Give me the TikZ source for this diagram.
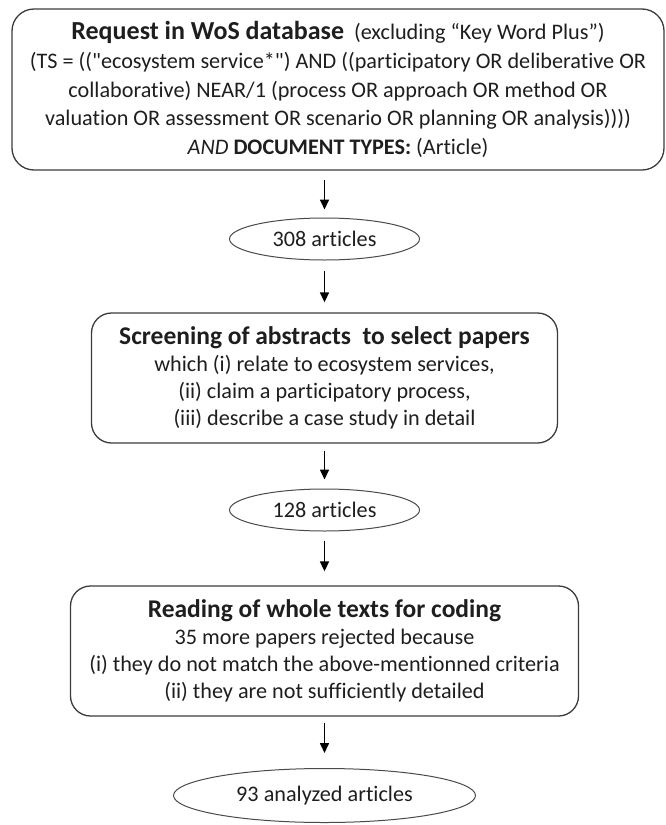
\documentclass[tikz,border=0pt]{standalone}
\usepackage{fontspec}
\setmainfont{Carlito}[Ligatures={TeXOff,NoCommon}]
\usetikzlibrary{shapes.geometric,arrows.meta}
\definecolor{ln}{HTML}{3C3C3C}
\definecolor{oln}{HTML}{4A4A4A}
\definecolor{tx}{HTML}{1E1E1E}
\newcommand{\ttl}[2][25.5]{{\fontsize{#1}{27}\selectfont\bfseries #2}}
\tikzset{
  txt/.style={font=\fontsize{22.2}{27.1}\selectfont, text=tx, align=center},
  stepbox/.style={txt, draw=ln, line width=1.3pt, rounded corners=20pt, inner sep=0pt},
  oval/.style={txt, draw=oln, ellipse, line width=1.0pt, inner sep=0pt},
  arr/.style={draw=black, line width=1.6pt, -{Triangle[length=10pt,width=9pt]}}
}
\begin{document}
\begin{tikzpicture}[x=1pt,y=-1pt]
\useasboundingbox (0,0) rectangle (666,825);
\node[stepbox, font=\fontsize{22.2}{28.6}\selectfont, rounded corners=22pt, minimum width=652pt, minimum height=161pt] (b1) at (338,89.5)
 {\ttl[26]{Request in WoS database}\ \ (excluding “Key Word Plus”)\\
  (TS = (("ecosystem service*") AND ((participatory OR deliberative OR\\
  collaborative) NEAR/1 (process OR approach OR method OR\\
  valuation OR assessment OR scenario OR planning OR analysis))))\\
  \textit{AND} \textbf{DOCUMENT TYPES:} (Article)};
\node[oval, minimum width=190pt, minimum height=42pt] (e1) at (324.5,239) {308 articles};
\node[stepbox, minimum width=466pt, minimum height=130pt] (b2) at (324.5,378)
 {\ttl{Screening of abstracts\ \ to select papers}\\
  which (i) relate to ecosystem services,\\
  (ii) claim a participatory process,\\
  (iii) describe a case study in detail};
\node[oval, minimum width=190pt, minimum height=42pt] (e2) at (324.5,510) {128 articles};
\node[stepbox, minimum width=508pt, minimum height=130pt] (b3) at (324.5,651)
 {\ttl{Reading of whole texts for coding}\\
  35 more papers rejected because\\
  (i) they do not match the above-mentionned criteria\\
  (ii) they are not sufficiently detailed};
\node[oval, minimum width=302pt, minimum height=54pt] (e3) at (324.5,795.5) {93 analyzed articles};
\draw[arr, shorten <=9pt, shorten >=8pt] (b1.south -| e1.north) -- (e1.north);
\draw[arr, shorten <=10pt, shorten >=10pt] (e1.south) -- (b2.north);
\draw[arr, shorten <=7pt, shorten >=9pt] (b2.south) -- (e2.north);
\draw[arr, shorten <=9pt, shorten >=14pt] (e2.south) -- (b3.north);
\draw[arr, shorten <=6pt, shorten >=15pt] (b3.south) -- (e3.north);
\end{tikzpicture}
\end{document}
